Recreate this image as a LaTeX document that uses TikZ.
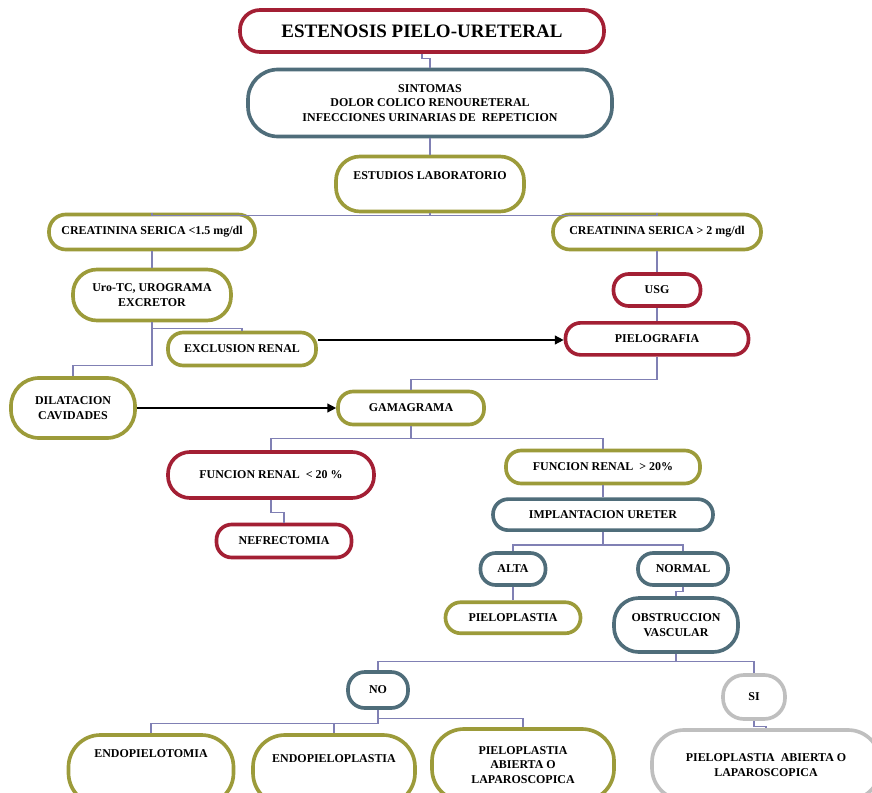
\documentclass[tikz,border=0pt]{standalone}
\usepackage{fontspec}
\setmainfont{Liberation Serif}
\usetikzlibrary{
  positioning,
  arrows.meta
}
\definecolor{epRed}{HTML}{A31F34}
\definecolor{epBlue}{HTML}{4F6D7A}
\definecolor{epOlive}{HTML}{9C9B3A}
\definecolor{epGray}{HTML}{BFBFBF}
\definecolor{epLink}{HTML}{8080B4}

\begin{document}
\begin{tikzpicture}[
  x=0.025cm, y=-0.025cm,
  every node/.style={font=\bfseries\fontsize{8.5}{10.3}\selectfont, align=center},
  box/.style={
    rectangle, rounded corners=#1, line width=2.6pt,
    fill=white, inner sep=0pt
  },
  box/.default=0.38cm,
  sz/.style 2 args={minimum width=#1*0.025cm, minimum height=#2*0.025cm},
  redbox/.style={box=#1, draw=epRed}, redbox/.default=0.38cm,
  bluebox/.style={box=#1, draw=epBlue}, bluebox/.default=0.38cm,
  olivebox/.style={box=#1, draw=epOlive}, olivebox/.default=0.38cm,
  graybox/.style={box=#1, draw=epGray}, graybox/.default=0.38cm,
  lift/.style={text depth=#1},
  link/.style={draw=epLink, line width=0.9pt},
  arrow/.style={-{Triangle[length=2.2mm, width=2.2mm]}, line width=1.1pt, black}
]
 \useasboundingbox (0,0) rectangle (872,793);
 \fill[white] (0,0) rectangle (872,793);
 \clip (0,0) rectangle (872,793);

 % Top -- title, symptoms, lab
 \node[redbox=0.5cm, sz={364}{42}, font=\bfseries\fontsize{13.5}{16}\selectfont] (title) at (422,31) {ESTENOSIS PIELO-URETERAL};
 \node[bluebox=0.75cm, sz={364}{67}] (sint) at (430,103) {SINTOMAS\\DOLOR COLICO RENOURETERAL\\INFECCIONES URINARIAS DE\ \ REPETICION};
 \node[olivebox=0.6cm, sz={188}{55}, lift=12pt] (estud) at (430,184) {ESTUDIOS LABORATORIO};

 \draw[link] (title.south) -- ++(0,5) -| (sint.north);
 \draw[link] (sint.south) -- (estud.north);

 % Creatinine -- two branches
 \node[olivebox=0.42cm, sz={206}{35}] (cra) at (152,232) {CREATININA SERICA <1.5 mg/dl};
 \node[olivebox=0.42cm, sz={208}{35}] (crb) at (657,232) {CREATININA SERICA > 2 mg/dl};

 \draw[link] (estud.south) -- ++(0,2) -| (cra.north);
 \draw[link] (estud.south) -- ++(0,2) -| (crb.north);

 % Left branch
 \node[olivebox=0.6cm, sz={158}{51}] (uro) at (152,295) {Uro-TC, UROGRAMA\\EXCRETOR};
 \node[olivebox, sz={148}{33}] (excl) at (242,349) {EXCLUSION RENAL};
 \node[olivebox=0.7cm, sz={124}{60}] (dila) at (73,408) {DILATACION\\CAVIDADES};

 \draw[link] (cra.south) -- (uro.north);
 \draw[link] (uro.south) -- ++(0,6) -| (excl.north);
 \draw[link] (uro.south) -- ++(0,43) -| (dila.north);

 % Right branch
 \node[redbox, sz={87}{32}] (usg) at (657,290) {USG};
 \node[redbox, sz={183}{32}, below=0.33cm of usg] (pielo) {PIELOGRAFIA};

 \draw[link] (crb.south) -- (usg.north); \draw[link] (usg.south) -- (pielo.north);
 \draw[arrow] ([yshift=6.4pt]excl.east) coordinate (exA) -- (exA -| pielo.west);

 % Gammagram and renal function
 \node[olivebox, sz={146}{33}] (gama) at (411,408) {GAMAGRAMA};
 \node[redbox=0.55cm, sz={206}{46}] (fa) at (271,475) {FUNCION RENAL\ \ < 20 \%};
 \node[olivebox, sz={194}{33}] (fb) at (603,467) {FUNCION RENAL\ \ > 20\%};
 \node[redbox, sz={135}{33}] (nef) at (284,541) {NEFRECTOMIA};
 \node[bluebox, sz={220}{31}, below=0.3cm of fb] (impl) {IMPLANTACION URETER};

 \draw[arrow] (dila.east) -- (gama.west);
 \draw[link] (pielo.south) -- ++(0,23) -| (gama.north);
 \draw[link] (gama.south) -- ++(0,12) -| (fa.north);
 \draw[link] (gama.south) -- ++(0,12) -| (fb.north);
 \draw[link] (fa.south) -- ++(0,13) -| (nef.north);
 \draw[link] (fb.south) -- (impl.north);

 % Ureter implantation
 \node[bluebox, sz={65}{32}] (alta) at (513,569) {ALTA};
 \node[bluebox, sz={90}{32}] (norm) at (683,569) {NORMAL};
 \node[olivebox, sz={135}{31}, below=0.34cm of alta] (pplas) {PIELOPLASTIA};
 \node[bluebox=0.62cm, sz={124}{54}] (obst) at (676,625) {OBSTRUCCION\\VASCULAR};

 \draw[link] (impl.south) -- ++(0,13) -| (alta.north);
 \draw[link] (impl.south) -- ++(0,13) -| (norm.north);
 \draw[link] (alta.south) -- (pplas.north);
 \draw[link] (norm.south) -- ++(0,5) -| (obst.north);

 % Vascular obstruction -- NO / SI
 \node[bluebox=0.42cm, sz={60}{36}] (no) at (378,690) {NO};
 \node[graybox=0.52cm, sz={62}{44}] (si) at (754,697) {SI};

 \draw[link] (obst.south) -- ++(0,8) -| (no.north);
 \draw[link] (obst.south) -- ++(0,8) -| (si.north);

 % Bottom row -- treatments
 \node[olivebox=0.8cm, sz={165}{70}, lift=23pt] (e1) at (151,770) {ENDOPIELOTOMIA};
 \node[olivebox=0.8cm, sz={162}{70}, lift=16pt] (e2) at (334,770) {ENDOPIELOPLASTIA};
 \node[olivebox=0.8cm, sz={182}{72}] (e3) at (523,765) {PIELOPLASTIA\\ABIERTA O\\LAPAROSCOPICA};
 \node[graybox=0.8cm, sz={228}{70}] (e4) at (766,765) {PIELOPLASTIA\ \ ABIERTA O\\LAPAROSCOPICA};

 \draw[link] (no.south) -- ++(0,14) -| (e1.north);
 \draw[link] (no.south) -- ++(0,14) -| (e2.north);
 \draw[link] (no.south) -- ++(0,9) -| (e3.north);
 \draw[link] (si.south) -- ++(0,6) -| (e4.north);
\end{tikzpicture}
\end{document}
